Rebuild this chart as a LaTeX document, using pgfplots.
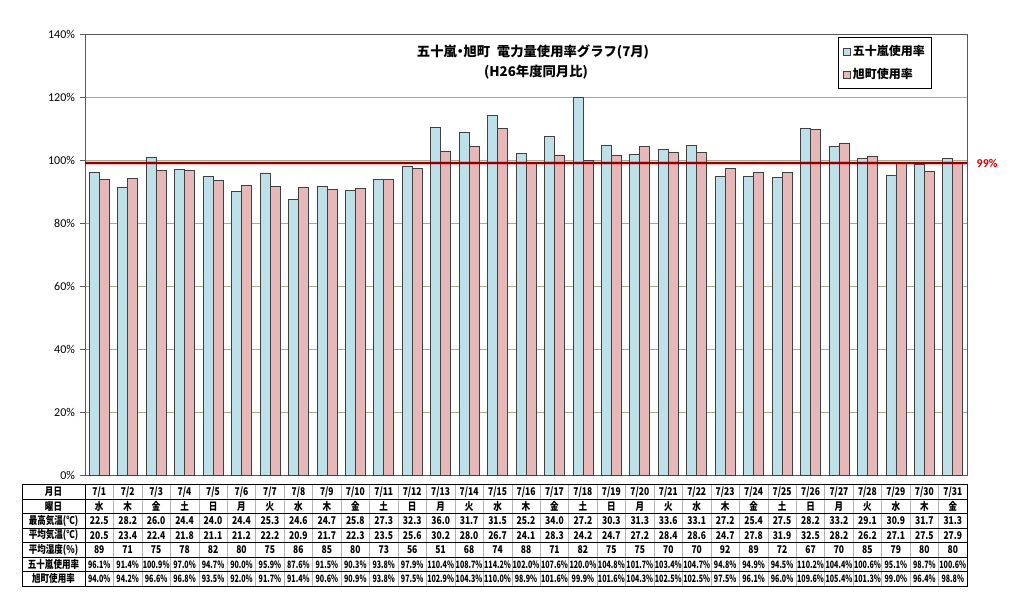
\documentclass[border=0pt]{standalone}
\usepackage{fontspec}
\usepackage{pgfplots}
\pgfplotsset{compat=1.18}
\setmainfont{Noto Sans CJK JP}
\newfontfamily\tabfont{Noto Sans CJK JP}[FakeStretch=0.8]
\newfontfamily\pctfont{Noto Sans CJK JP}[FakeStretch=0.7]
\newfontfamily\calib{Carlito}
\definecolor{barblue}{HTML}{BEE0E8}
\definecolor{barpink}{HTML}{E6B9B8}
\definecolor{gridc}{HTML}{ADA991}
\definecolor{limc}{HTML}{8B0000}

\begin{document}
\begin{tikzpicture}
\useasboundingbox (0,0) rectangle (768pt,459.75pt);
\begin{axis}[
    at={(63.75pt,103.5pt)}, anchor=south west,
    scale only axis, width=661.5pt, height=330.75pt,
    xmin=0.5, xmax=31.5, ymin=0, ymax=140,
    ytick={0,20,...,140},
    yticklabel={\pgfmathprintnumber{\tick}\%},
    yticklabel style={font=\calib\fontsize{9}{10}\selectfont},
    /pgf/number format/assume math mode=true,
    xtick=\empty, ytick pos=left,
    ymajorgrids, grid style={gridc, line width=0.6pt},
    axis line style={draw=gray!70!black, line width=0.6pt},
    tick style={draw=gray!70!black},
    major tick length=4pt, tick align=outside,
    legend style={at={(0.854,0.993)}, anchor=north west, draw=black, line width=0.6pt,
        font=\bfseries\fontsize{9}{11}\selectfont, row sep=4pt,
        inner xsep=3pt, inner ysep=4pt, cells={anchor=west}},
    legend image code/.code={\draw[#1, line width=0.4pt] (0pt,-2.6pt) rectangle (5.2pt,2.6pt);},
    clip=false,
]
% 五十嵐使用率
\addplot[ybar, bar width=7.5pt, bar shift=-3.75pt, fill=barblue, draw=black!75, line width=0.5pt] coordinates {
    (1,96.1) (2,91.4) (3,100.9) (4,97.0) (5,94.7) (6,90.0) (7,95.9) (8,87.6)
    (9,91.5) (10,90.3) (11,93.8) (12,97.9) (13,110.4) (14,108.7) (15,114.2) (16,102.0)
    (17,107.6) (18,120.0) (19,104.8) (20,101.7) (21,103.4) (22,104.7) (23,94.8) (24,94.9)
    (25,94.5) (26,110.2) (27,104.4) (28,100.6) (29,95.1) (30,98.7) (31,100.6)
};
% 旭町使用率
\addplot[ybar, bar width=7.5pt, bar shift=3.75pt, fill=barpink, draw=black!75, line width=0.5pt] coordinates {
    (1,94.0) (2,94.2) (3,96.6) (4,96.8) (5,93.5) (6,92.0) (7,91.7) (8,91.4)
    (9,90.6) (10,90.9) (11,93.8) (12,97.5) (13,102.9) (14,104.3) (15,110.0) (16,98.9)
    (17,101.6) (18,99.9) (19,101.6) (20,104.3) (21,102.5) (22,102.5) (23,97.5) (24,96.1)
    (25,96.0) (26,109.6) (27,105.4) (28,101.3) (29,99.0) (30,96.4) (31,98.8)
};
\legend{五十嵐使用率, 旭町使用率}
% 目標ライン 99%
\addplot[red, opacity=0.25, line width=3.5pt, forget plot] coordinates {(0.5,99) (31.5,99)};
\addplot[limc, line width=1.6pt, forget plot] coordinates {(0.5,99) (31.5,99)};
\end{axis}

\begin{scope}[yshift=459.75pt, x=0.75pt, y=-0.75pt]
  \node[font=\bfseries\fontsize{10}{12}\selectfont] at (533,52) {五十嵐\kern-0.25em・\kern-0.25em 旭町\enspace 電力量使用率グラフ(7月)};
  \node[font=\bfseries\fontsize{10}{12}\selectfont] at (536,72) {(H26年度同月比)};
  \node[font=\calib\bfseries\fontsize{9}{10}\selectfont, text=red!80!black, anchor=west] at (972,163) {99\%};

  % 表
  \def\cw{28.452}
  \draw[gray!60, line width=0.4pt] \foreach \k in {1,...,30} {(85+\cw*\k,484.5) -- (85+\cw*\k,586)};
  \draw[black, line width=0.5pt] \foreach \k in {1,...,6} {(22,484.5+14.5*\k) -- (967,484.5+14.5*\k)};
  \draw[black, line width=0.5pt] (85,484.5) -- (85,586);
  \draw[black, line width=0.7pt] (22,484.5) rectangle (967,586);
  \begin{scope}[every node/.style={font=\tabfont\bfseries\fontsize{8}{9}\selectfont, inner sep=0pt}]
    \node at (53.5,491.75) {月日};
    \node at (53.5,506.25) {曜日};
    \node at (53.5,520.75) {最高気温(℃)};
    \node at (53.5,535.25) {平均気温(℃)};
    \node at (53.5,549.75) {平均湿度(\%)};
    \node at (53.5,564.25) {五十嵐使用率};
    \node at (53.5,578.75) {旭町使用率};
    \foreach \v [count=\i] in {7/1,7/2,7/3,7/4,7/5,7/6,7/7,7/8,7/9,7/10,7/11,7/12,7/13,7/14,7/15,7/16,7/17,7/18,7/19,7/20,7/21,7/22,7/23,7/24,7/25,7/26,7/27,7/28,7/29,7/30,7/31}
      \node at ({85+\cw*(\i-0.5)},491.75) {\v};
    \foreach \v [count=\i] in {水,木,金,土,日,月,火,水,木,金,土,日,月,火,水,木,金,土,日,月,火,水,木,金,土,日,月,火,水,木,金}
      \node at ({85+\cw*(\i-0.5)},506.25) {\v};
    \foreach \v [count=\i] in {22.5,28.2,26.0,24.4,24.0,24.4,25.3,24.6,24.7,25.8,27.3,32.3,36.0,31.7,31.5,25.2,34.0,27.2,30.3,31.3,33.6,33.1,27.2,25.4,27.5,28.2,33.2,29.1,30.9,31.7,31.3}
      \node at ({85+\cw*(\i-0.5)},520.75) {\v};
    \foreach \v [count=\i] in {20.5,23.4,22.4,21.8,21.1,21.2,22.2,20.9,21.7,22.3,23.5,25.6,30.2,28.0,26.7,24.1,28.3,24.2,24.7,27.2,28.4,28.6,24.7,27.8,31.9,32.5,28.2,26.2,27.1,27.5,27.9}
      \node at ({85+\cw*(\i-0.5)},535.25) {\v};
    \foreach \v [count=\i] in {89,71,75,78,82,80,75,86,85,80,73,56,51,68,74,88,71,82,75,75,70,70,92,89,72,67,70,85,79,80,80}
      \node at ({85+\cw*(\i-0.5)},549.75) {\v};
  \end{scope}
  \begin{scope}[every node/.style={font=\pctfont\bfseries\fontsize{7.6}{9}\selectfont, inner sep=0pt}]
    \foreach \v [count=\i] in {96.1,91.4,100.9,97.0,94.7,90.0,95.9,87.6,91.5,90.3,93.8,97.9,110.4,108.7,114.2,102.0,107.6,120.0,104.8,101.7,103.4,104.7,94.8,94.9,94.5,110.2,104.4,100.6,95.1,98.7,100.6}
      \node at ({85+\cw*(\i-0.5)},564.25) {\v\%};
    \foreach \v [count=\i] in {94.0,94.2,96.6,96.8,93.5,92.0,91.7,91.4,90.6,90.9,93.8,97.5,102.9,104.3,110.0,98.9,101.6,99.9,101.6,104.3,102.5,102.5,97.5,96.1,96.0,109.6,105.4,101.3,99.0,96.4,98.8}
      \node at ({85+\cw*(\i-0.5)},578.75) {\v\%};
  \end{scope}
\end{scope}
\end{tikzpicture}
\end{document}
